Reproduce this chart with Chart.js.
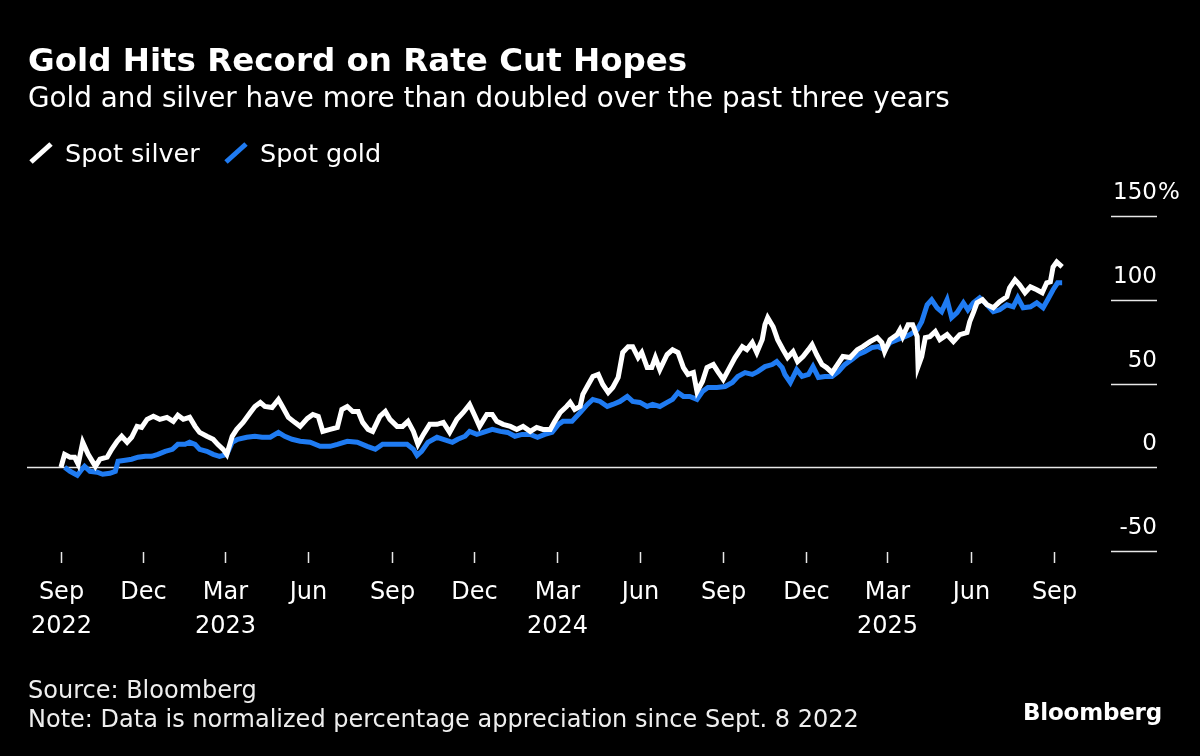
<!DOCTYPE html>
<html>
<head>
<meta charset="utf-8">
<script src="https://cdn.jsdelivr.net/npm/chart.js@4.4.1/dist/chart.umd.min.js"></script>
<style>
  body { margin: 0; background: #000; overflow: hidden; font-family: "DejaVu Sans", sans-serif; color: #fff; }
  #wrap { position: relative; width: 1200px; height: 756px; }
  #chart { position: absolute; left: 0; top: 0; }
  .txt { position: absolute; line-height: 1; white-space: nowrap; }
  #title { left: 28px; top: 44px; font-size: 32.5px; font-weight: bold; }
  #subtitle { left: 28px; top: 84px; font-size: 27.8px; }
  .legend { position: absolute; top: 141px; font-size: 25.5px; line-height: 1; white-space: nowrap; }
  .legend svg { position: absolute; top: 0; }
  #source { left: 28px; top: 678px; font-size: 24px; color: #eee; }
  #note { left: 28px; top: 707px; font-size: 24px; color: #eee; }
  #logo { right: 38px; top: 701px; font-size: 23px; font-weight: bold; letter-spacing: -0.2px; }
</style>
</head>
<body>
<div id="wrap">
  <canvas id="chart" width="1200" height="756"></canvas>
  <div class="txt" id="title">Gold Hits Record on Rate Cut Hopes</div>
  <div class="txt" id="subtitle">Gold and silver have more than doubled over the past three years</div>
  <div class="legend" style="left:28px">
    <svg width="30" height="30" style="left:0"><line x1="3" y1="21" x2="23" y2="3" stroke="#fff" stroke-width="5"/></svg>
    <span style="margin-left:37px">Spot silver</span>
  </div>
  <div class="legend" style="left:223px">
    <svg width="30" height="30" style="left:0"><line x1="3" y1="21" x2="23" y2="3" stroke="#1f7bf2" stroke-width="5"/></svg>
    <span style="margin-left:37px">Spot gold</span>
  </div>
  <div class="txt" id="source">Source: Bloomberg</div>
  <div class="txt" id="note">Note: Data is normalized percentage appreciation since Sept. 8 2022</div>
  <div class="txt" id="logo">Bloomberg</div>
</div>
<script>
// x values are days counted from Sept. 1 2022
const silverDays = [0, 4, 10, 15, 19, 24, 30, 38, 43, 51, 56, 62, 67, 73, 78, 84, 89, 95, 102, 109,
  117, 124, 129, 135, 142, 148, 153, 161, 168, 173, 179, 183, 189, 194, 201, 209, 214, 220, 225, 233,
  240, 245, 251, 258, 264, 272, 278, 284, 289, 297, 305, 310, 316, 322, 328, 333, 339, 344, 352, 358,
  363, 371, 377, 383, 389, 394, 400, 407, 415, 422, 429, 437, 444, 451, 457, 462, 470, 476, 481, 488,
  496, 503, 510, 518, 525, 532, 540, 545, 551, 558, 562, 567, 573, 576, 582, 587, 593, 598, 604, 609,
  615, 620, 626, 631, 637, 641, 647, 652, 656, 661, 669, 675, 681, 687, 692, 698, 702, 708, 713, 720,
  725, 731, 738, 744, 752, 757, 763, 768, 774, 777, 780, 786, 791, 797, 802, 808, 813, 819, 825, 829,
  834, 840, 845, 851, 857, 863, 871, 879, 885, 893, 901, 906, 909, 915, 923, 926, 929, 935, 940, 945,
  946, 950, 954, 959, 965, 970, 978, 985, 992, 1000, 1003, 1007, 1011, 1017, 1022, 1029, 1036, 1044, 1047, 1053,
  1058, 1064, 1070, 1077, 1083, 1088, 1092, 1095, 1099, 1105];
const silverValues = [0, 7.7, 6.0, 6.0, 1.8, 14.9, 7.7, 0.5, 4.8, 6.0, 10.7, 15.5, 18.5, 14.9, 17.9, 24.4, 23.8, 28.6, 30.4, 28.6,
  29.8, 27.4, 31.0, 28.6, 29.8, 24.4, 20.8, 18.5, 16.7, 13.7, 10.7, 7.7, 18.5, 22.6, 26.8, 32.7, 36.3, 38.7, 36.3, 35.7,
  40.5, 35.7, 29.8, 26.8, 24.4, 29.2, 31.5, 30.4, 21.4, 22.6, 23.8, 34.5, 36.3, 33.3, 33.3, 26.8, 22.6, 21.4, 30.4, 33.3,
  28.6, 24.4, 24.4, 27.4, 21.4, 13.7, 19.6, 25.6, 25.6, 26.8, 20.8, 28.6, 32.7, 37.5, 30.4, 24.4, 31.5, 31.5, 27.4, 25.6,
  24.4, 22.6, 24.4, 21.4, 23.8, 22.6, 22.6, 27.4, 32.7, 36.3, 38.7, 34.5, 36.3, 43.5, 49.4, 54.2, 55.4, 49.4, 44.6, 47.6,
  53.6, 68.5, 72.0, 72.0, 65.5, 68.5, 59.5, 59.5, 65.5, 58.3, 67.3, 70.2, 68.5, 59.5, 55.4, 56.5, 45.2, 51.2, 59.5, 61.3,
  57.1, 52.4, 59.5, 65.5, 72.0, 70.2, 74.4, 68.5, 76.2, 85.1, 89.3, 83.9, 76.2, 70.2, 65.5, 69.0, 63.1, 66.1, 70.2, 73.2,
  67.3, 61.3, 59.5, 56.5, 61.3, 66.1, 65.5, 70.2, 72.0, 75.0, 77.4, 74.4, 69.0, 76.2, 79.2, 82.1, 78.0, 85.1, 85.1, 78.0,
  60.1, 66.1, 77.4, 78.0, 81.0, 76.2, 79.2, 75.0, 79.2, 80.4, 86.9, 92.3, 98.2, 100.0, 97.0, 95.2, 98.8, 101.8, 107.1, 111.9,
  108.9, 104.2, 107.7, 106.0, 104.2, 110.1, 110.7, 119.6, 122.6, 119.6];

const goldDays = [4, 10, 18, 23, 26, 32, 40, 46, 54, 60, 63, 71, 78, 85, 93, 100, 107, 115, 123, 129,
  137, 142, 148, 153, 161, 168, 175, 183, 189, 195, 205, 214, 222, 231, 240, 247, 255, 264, 275, 286,
  297, 305, 316, 327, 338, 347, 355, 365, 374, 382, 389, 393, 398, 405, 415, 422, 432, 438, 446, 451,
  459, 466, 476, 485, 493, 501, 509, 518, 526, 534, 542, 549, 554, 564, 573, 581, 587, 595, 603, 609,
  617, 625, 631, 639, 647, 653, 661, 669, 675, 681, 687, 694, 702, 708, 714, 724, 733, 741, 747, 755,
  763, 769, 777, 785, 790, 796, 799, 805, 812, 818, 825, 830, 836, 843, 851, 858, 865, 873, 880, 887,
  895, 902, 909, 915, 923, 929, 937, 945, 950, 956, 961, 967, 972, 978, 983, 989, 996, 1001, 1007, 1014,
  1022, 1029, 1036, 1044, 1051, 1056, 1062, 1070, 1077, 1084, 1089, 1095, 1100, 1105];
const goldValues = [0, -2.4, -4.8, -1.2, 0.6, -2.4, -3.0, -4.2, -3.6, -2.4, 3.6, 4.2, 4.8, 6.0, 6.5, 6.5, 7.7, 9.5, 10.7, 13.7,
  13.7, 14.9, 13.7, 10.7, 9.5, 7.7, 6.5, 7.7, 14.9, 16.7, 17.9, 18.5, 17.9, 17.9, 20.8, 18.5, 16.7, 15.5, 14.9, 12.5,
  12.5, 13.7, 15.5, 14.9, 12.5, 10.7, 13.7, 13.7, 13.7, 13.7, 10.7, 7.1, 9.5, 14.9, 17.9, 16.7, 14.9, 16.7, 18.5, 21.4,
  19.6, 20.8, 22.6, 21.4, 20.8, 18.5, 19.6, 19.6, 17.9, 19.6, 20.8, 25.6, 27.4, 27.4, 32.7, 37.5, 40.5, 39.3, 36.3, 37.5,
  39.3, 42.3, 39.3, 38.7, 36.3, 37.5, 36.3, 38.7, 40.5, 44.6, 42.3, 42.3, 40.5, 45.2, 47.6, 47.6, 48.2, 50.6, 54.2, 56.5,
  55.4, 57.1, 60.1, 61.3, 63.1, 59.5, 55.4, 50.6, 58.3, 54.2, 55.4, 60.1, 53.6, 54.2, 54.2, 57.1, 61.3, 64.3, 67.3, 69.0,
  71.4, 72.0, 70.2, 74.4, 76.2, 77.4, 79.2, 82.1, 86.9, 97.0, 100.0, 95.2, 92.9, 100.0, 89.3, 92.3, 98.2, 94.0, 98.2, 101.2,
  97.0, 92.9, 94.0, 97.0, 95.8, 101.2, 95.2, 95.8, 98.2, 95.2, 100.0, 106.0, 110.1, 110.1];

// quarter ticks: Sep 2022 ... Sep 2025
const tickDays = [0, 91, 181, 273, 365, 456, 547, 639, 731, 822, 912, 1004, 1096];
const tickMonths = ['Sep', 'Dec', 'Mar', 'Jun', 'Sep', 'Dec', 'Mar', 'Jun', 'Sep', 'Dec', 'Mar', 'Jun', 'Sep'];
const tickYears = ['2022', '', '2023', '', '', '', '2024', '', '', '', '2025', '', ''];
const yTicks = [150, 100, 50, 0, -50];

const toPoints = (days, vals) => days.map((d, i) => ({ x: d, y: vals[i] }));

const axesPlugin = {
  id: 'bbgAxes',
  beforeDatasetsDraw(chart) {
    const ctx = chart.ctx;
    const y = chart.scales.y;
    const area = chart.chartArea;
    ctx.save();
    ctx.strokeStyle = '#e8e8e8';
    ctx.lineWidth = 1.5;
    yTicks.forEach(v => {
      const py = Math.round(y.getPixelForValue(v)) + 0.5;
      ctx.beginPath();
      ctx.moveTo(v === 0 ? area.left : area.right - 46, py);
      ctx.lineTo(area.right, py);
      ctx.stroke();
    });
    ctx.restore();
  },
  afterDraw(chart) {
    const ctx = chart.ctx;
    const x = chart.scales.x;
    const y = chart.scales.y;
    const area = chart.chartArea;
    ctx.save();
    ctx.fillStyle = '#fff';
    ctx.font = '23px "DejaVu Sans"';
    ctx.textBaseline = 'alphabetic';
    ctx.textAlign = 'right';
    yTicks.forEach(v => {
      const py = y.getPixelForValue(v) - 17;
      ctx.fillText(String(v), area.right, py);
      if (v === 150) {
        ctx.textAlign = 'left';
        ctx.fillText('%', area.right + 1, py);
        ctx.textAlign = 'right';
      }
    });
    ctx.strokeStyle = '#e8e8e8';
    ctx.lineWidth = 1.5;
    ctx.textAlign = 'center';
    ctx.font = '24px "DejaVu Sans"';
    tickDays.forEach((d, i) => {
      const px = Math.round(x.getPixelForValue(d)) + 0.5;
      ctx.beginPath();
      ctx.moveTo(px, area.bottom + 1);
      ctx.lineTo(px, area.bottom + 12);
      ctx.stroke();
      ctx.fillText(tickMonths[i], px, area.bottom + 48);
      if (tickYears[i]) ctx.fillText(tickYears[i], px, area.bottom + 82);
    });
    ctx.restore();
  }
};

new Chart(document.getElementById('chart'), {
  type: 'line',
  data: {
    datasets: [{
      label: 'Spot silver',
      data: toPoints(silverDays, silverValues),
      borderColor: '#ffffff',
      borderWidth: 5,
      pointRadius: 0,
      tension: 0
    }, {
      label: 'Spot gold',
      data: toPoints(goldDays, goldValues),
      borderColor: '#1f7bf2',
      borderWidth: 5,
      pointRadius: 0,
      tension: 0
    }]
  },
  options: {
    responsive: false,
    animation: false,
    layout: { padding: { left: 27, right: 43, top: 216, bottom: 205 } },
    plugins: { legend: { display: false }, tooltip: { enabled: false } },
    scales: {
      x: { type: 'linear', display: false, min: -37.5, max: 1209.7 },
      y: { display: false, min: -50, max: 150 }
    }
  },
  plugins: [axesPlugin]
});
</script>
</body>
</html>
